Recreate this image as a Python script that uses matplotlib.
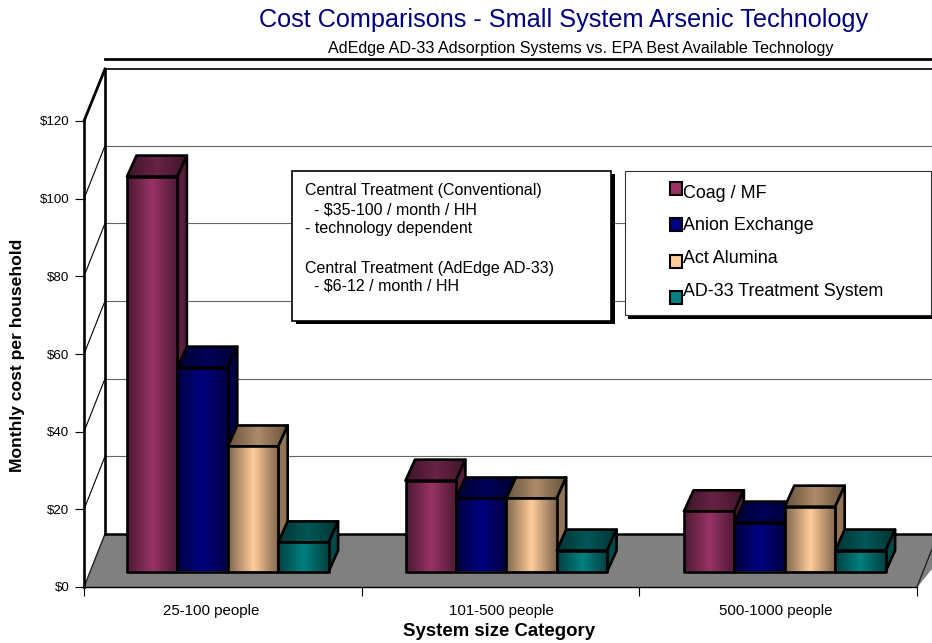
import numpy as np
import matplotlib
matplotlib.use("Agg")
import matplotlib.pyplot as plt
from matplotlib.patches import Polygon, Rectangle

plt.rcParams['font.family'] = ['Liberation Sans', 'DejaVu Sans']

categories = ["25-100 people", "101-500 people", "500-1000 people"]
series = ["Coag / MF", "Anion Exchange", "Act Alumina", "AD-33 Treatment System"]
coag = [101.7, 23.4, 15.5]
anion = [52.5, 18.8, 12.6]
alumina = [32.2, 18.8, 16.7]
ad33 = [7.5, 5.4, 5.4]
y_ticks = [0, 20, 40, 60, 80, 100, 120]
colors = ["#993366", "#000080", "#FFCC99", "#008080"]

W, H = 932, 643
fig = plt.figure(figsize=(W / 100, H / 100), dpi=100, facecolor="white")

# pixel-coordinate layer for the fake-3D walls, floor, boxes and titles
bg = fig.add_axes([0, 0, 1, 1], zorder=0)
bg.set_xlim(0, W); bg.set_ylim(H, 0); bg.axis("off")

L, R, T, B = 84, 917, 121, 587
ax = fig.add_axes([L / W, (H - B) / H, (R - L) / W, (B - T) / H], zorder=1)
ax.patch.set_visible(False)

px_x = (R - L) / 3.0
px_y = (B - T) / 120.0
LIFT = 15.5 / px_y            # bars stand inside the floor
DX, DY = 9.5 / px_x, 21 / px_y  # bar depth
BW = 50.4 / px_x
OFF = 43 / px_x
STEP = 278.5 / px_x

# floor and walls
bk_l, bk_t, bk_b = 105, 69, 534
bg.add_patch(Polygon([(L, B), (bk_l, bk_b), (960, bk_b), (R + 0.5, B)], fc="#808080", ec="none", zorder=1))
bg.plot([bk_l, 940], [bk_b, bk_b], color="black", lw=1.8, zorder=3)
bg.plot([R, R + 21], [B, bk_b], color="#222222", lw=1.0, zorder=3)
bg.plot([L, bk_l], [B, bk_b], color="#222222", lw=1.0, zorder=3)
bg.plot([bk_l, bk_l], [bk_t, bk_b], color="black", lw=1.9, zorder=3)
bg.plot([bk_l, 940], [bk_t, bk_t], color="black", lw=1.2, zorder=3)
bg.plot([L, bk_l], [T, bk_t], color="black", lw=2.0, zorder=3)
for v in y_ticks[1:-1]:
    y_front = B - v * px_y
    y_back = bk_b - v * px_y
    bg.plot([bk_l, 940], [y_back, y_back], color="#666666", lw=0.8, zorder=2)
    bg.plot([L, bk_l], [y_front, y_back], color="black", lw=0.8, zorder=2)

# titles
bg.text(564, 19.5, "Cost Comparisons - Small System Arsenic Technology", color="#000080",
        fontsize=18.2, ha="center", va="center", zorder=6)
bg.text(580.5, 48, "AdEdge AD-33 Adsorption Systems vs. EPA Best Available Technology",
        color="black", fontsize=11.6, ha="center", va="center", zorder=6)
bg.plot([105, 940], [59, 59], color="black", lw=2.0, zorder=6)

# annotation box
bg.add_patch(Rectangle((295.5, 174), 319, 150, fc="black", ec="none", zorder=4))
bg.add_patch(Rectangle((292, 170.5), 319, 150, fc="white", ec="black", lw=1.2, zorder=5))
note = [("Central Treatment (Conventional)", 191), ("  - $35-100 / month / HH", 209.5),
        ("- technology dependent", 228), ("Central Treatment (AdEdge AD-33)", 269),
        ("  - $6-12 / month / HH", 286)]
for s, y in note:
    bg.text(305, y, s, fontsize=11.55, ha="left", va="center", zorder=6)

# legend box
bg.add_patch(Rectangle((628, 174), 306, 144.5, fc="black", ec="none", zorder=4))
bg.add_patch(Rectangle((625, 170.5), 305.5, 144.5, fc="white", ec="#333333", lw=0.8, zorder=5))
swatch_y = [182, 218, 255, 291]
text_y = [194, 225.5, 258.5, 291.5]
for name, c, sy, ty in zip(series, colors, swatch_y, text_y):
    bg.add_patch(Rectangle((669.5, sy), 12.5, 12.5, fc=c, ec="black", lw=1.5, zorder=6))
    bg.text(683, ty, name, fontsize=12.85, ha="left", va="center", zorder=6)


def ramp(color, scale, edge=0.5, n=64):
    rgb = np.array(matplotlib.colors.to_rgb(color))
    t = 1 - np.abs(np.linspace(-1, 1, n))
    f = edge + (1 - edge) * t
    return (f[:, None] * rgb * scale)[None, :, :]


def face(pts, color, scale, edge=0.5):
    xs = [p[0] for p in pts]; ys = [p[1] for p in pts]
    poly = Polygon(pts, closed=True, fc="none", ec="none")
    ax.add_patch(poly)
    im = ax.imshow(np.clip(ramp(color, scale, edge), 0, 1), extent=(min(xs), max(xs), min(ys), max(ys)),
                   aspect="auto", interpolation="bilinear", zorder=2)
    im.set_clip_path(poly)
    ax.add_patch(Polygon(pts, closed=True, fc="none", ec="black", lw=1.9, joinstyle="round", zorder=2))


values = [coag, anion, alumina, ad33]
for i in range(len(categories)):
    for j, (vals, c) in enumerate(zip(values, colors)):
        x0 = i * STEP + OFF + j * BW
        x1 = x0 + BW
        y0 = LIFT
        y1 = LIFT + vals[i]
        face([(x0, y1), (x1, y1), (x1 + DX, y1 + DY), (x0 + DX, y1 + DY)], c, 0.68, 0.6)
        face([(x1, y0), (x1 + DX, y0 + DY), (x1 + DX, y1 + DY), (x1, y1)], c, 0.58, 0.95)
        face([(x0, y0), (x1, y0), (x1, y1), (x0, y1)], c, 1.0, 0.5)

ax.set_xlim(0, 3)
ax.set_ylim(0, 120)
for s in ("top", "right"):
    ax.spines[s].set_visible(False)
ax.spines["left"].set_linewidth(1.9)
ax.spines["bottom"].set_linewidth(1.0)
ax.set_yticks(y_ticks, [f"${v}" for v in y_ticks], fontsize=9.6)
ax.tick_params(axis="y", length=6.5, width=0.8, pad=4)
ax.set_xticks([0, 1, 2, 3], ["", "", "", ""])
ax.tick_params(axis="x", which="major", length=6.5, width=0.8)
ax.set_xticks([0.457, 1.505, 2.492], categories, minor=True)
ax.tick_params(axis="x", which="minor", length=0, pad=12.5, labelsize=10.8)

fig.text(17.5 / W, 1 - 355 / H, "Monthly cost per household", rotation=90, fontsize=12.6,
         fontweight="bold", ha="center", va="center")
fig.text(499.5 / W, 1 - 631.5 / H, "System size Category", fontsize=13.4,
         fontweight="bold", ha="center", va="center")

fig.savefig("out.png", dpi=100)
